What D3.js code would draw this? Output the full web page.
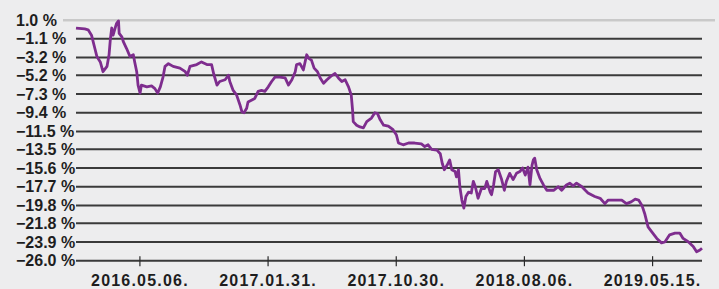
<!DOCTYPE html>
<html>
<head>
<meta charset="utf-8">
<script src="https://d3js.org/d3.v7.min.js"></script>
<style>
  body { margin: 0; background: #ededee; }
  #chart svg { display: block; }
  .ylab { font: bold 16px "Liberation Sans", Arial, sans-serif; fill: #1e1e1e; }
  .xaxis text { font: bold 16px "Liberation Sans", Arial, sans-serif; fill: #1e1e1e; letter-spacing: 1.2px; }
  .xaxis line { stroke: #2a2a2a; stroke-width: 1.2; }
  .grid { stroke: #3a3a3a; stroke-width: 2; }
  .topline { stroke: #bdbdbd; stroke-width: 1.5; }
  .perf { fill: none; stroke: #7e2d8e; stroke-width: 2.8; stroke-linejoin: round; }
</style>
</head>
<body>
<div id="chart"></div>
<script>
// trading day index (0 = first day) and cumulative return in %
const tradingDay = [0,13,18,23,28,31,36,40,46,49,51,53,55,58,60,63,64,68,70,75,80,85,87,90,92,95,97,105,112,117,121,125,129,132,137,144,154,162,165,169,179,186,194,201,204,209,213,221,226,228,233,238,243,246,249,253,255,260,265,270,275,280,285,290,295,302,310,315,320,325,327,332,337,342,345,349,353,358,362,367,372,378,384,389,394,399,404,408,410,411,416,421,426,431,438,443,447,451,456,463,470,475,478,485,493,502,512,517,522,527,535,540,543,546,550,554,557,562,564,567,569,572,575,578,582,586,589,592,596,601,606,609,614,616,619,622,626,631,635,638,643,648,653,658,662,666,670,673,676,678,680,683,688,693,698,703,708,715,720,727,732,737,742,750,755,759,769,777,784,789,799,809,816,823,829,834,839,843,848,853,861,868,873,880,888,895,900,908,915,920,925,928];

const returnPct = [0.1,0.0,-0.1,-0.7,-2.2,-3.1,-3.7,-4.8,-4.2,-2.9,-1.1,0.1,-0.7,0.1,0.6,0.9,-0.5,-0.9,-1.4,-2.2,-3.1,-2.9,-3.7,-4.8,-6.3,-7.2,-6.3,-6.5,-6.4,-6.7,-7.2,-6.5,-5.4,-4.2,-3.9,-4.2,-4.4,-4.8,-5.2,-4.2,-4.0,-3.7,-4.0,-4.0,-5.0,-6.3,-5.9,-5.7,-5.2,-5.9,-6.9,-7.4,-8.5,-9.3,-9.4,-8.9,-8.2,-8.0,-7.8,-7.0,-6.9,-7.0,-6.5,-5.9,-5.4,-5.4,-5.5,-6.3,-5.7,-4.8,-4.0,-3.9,-4.6,-2.9,-3.3,-3.5,-4.4,-4.8,-5.5,-6.1,-5.7,-5.3,-5.0,-5.5,-5.9,-5.7,-6.5,-7.4,-9.1,-10.4,-10.8,-11.0,-11.1,-10.4,-10.0,-9.4,-9.5,-10.2,-10.8,-10.9,-11.3,-11.9,-12.8,-13.0,-12.8,-12.8,-12.9,-13.2,-13.0,-13.5,-13.6,-14.0,-15.1,-15.8,-15.3,-14.7,-15.8,-16.0,-16.6,-15.8,-17.7,-19.2,-20.1,-18.8,-18.3,-18.4,-17.1,-17.7,-19.0,-17.9,-17.9,-17.1,-18.3,-18.6,-17.5,-16.0,-15.8,-16.9,-18.1,-17.1,-16.2,-16.9,-16.2,-16.0,-15.6,-16.4,-15.5,-17.5,-15.3,-14.7,-14.5,-15.8,-16.8,-17.5,-18.1,-18.1,-18.1,-17.7,-18.1,-17.5,-17.3,-17.6,-17.3,-17.7,-18.1,-18.4,-18.8,-19.0,-19.6,-19.2,-19.2,-19.2,-19.6,-19.4,-19.1,-19.2,-19.8,-20.7,-22.2,-22.7,-23.5,-24.0,-23.9,-23.1,-22.9,-22.9,-23.5,-23.9,-24.4,-25.0,-24.8,-24.6];

const yTicks = [1.0, -1.1, -3.2, -5.2, -7.3, -9.4, -11.5, -13.5, -15.6, -17.7, -19.8, -21.8, -23.9, -26.0];
const xTickDays = [94, 284, 474, 664, 854];
const xTickLabels = ["2016.05.06.", "2017.01.31.", "2017.10.30.", "2018.08.06.", "2019.05.15."];

const w = 719, h = 289;

if (tradingDay.length !== returnPct.length) console.log("length mismatch", tradingDay.length, returnPct.length);
const n = Math.min(tradingDay.length, returnPct.length);
const data = d3.range(n).map(i => [tradingDay[i], returnPct[i]]);

const svg = d3.select('#chart').append('svg')
  .attr('width', w)
  .attr('height', h);

const x = d3.scaleLinear().domain([0, 928]).range([76, 702]);
const y = d3.scaleLinear().domain([-26, 1]).range([260.7, 20]);

// top border line (the 1.0 % level)
svg.append('line')
  .attr('class', 'topline')
  .attr('x1', 63).attr('x2', 715)
  .attr('y1', y(yTicks[0])).attr('y2', y(yTicks[0]));
svg.append('line')
  .attr('x1', 63).attr('x2', 715)
  .attr('y1', y(yTicks[0]) + 1.5).attr('y2', y(yTicks[0]) + 1.5)
  .attr('stroke', '#dcdcdc').attr('stroke-width', 1);

// horizontal grid lines
svg.append('g')
  .selectAll('line')
  .data(yTicks.slice(1))
  .enter()
  .append('line')
  .attr('class', 'grid')
  .attr('x1', x(0)).attr('x2', x(928))
  .attr('y1', d => y(d)).attr('y2', d => y(d));

// y labels
svg.append('g')
  .selectAll('text')
  .data(yTicks)
  .enter()
  .append('text')
  .attr('class', 'ylab')
  .attr('x', 16)
  .attr('y', d => y(d))
  .attr('dy', '0.36em')
  .text(d => d3.format('.1f')(d) + ' %');

// x axis ticks + labels
const xAxis = d3.axisBottom(x)
  .tickValues(xTickDays)
  .tickFormat((d, i) => xTickLabels[i])
  .tickSize(10)
  .tickPadding(8);

const gx = svg.append('g')
  .attr('class', 'xaxis')
  .attr('transform', 'translate(0,' + (y(-26) - 4.5) + ')')
  .call(xAxis);
gx.select('.domain').remove();

// performance line
svg.append('path')
  .datum(data)
  .attr('class', 'perf')
  .attr('d', d3.line().x(d => x(d[0])).y(d => y(d[1])));
</script>
</body>
</html>
